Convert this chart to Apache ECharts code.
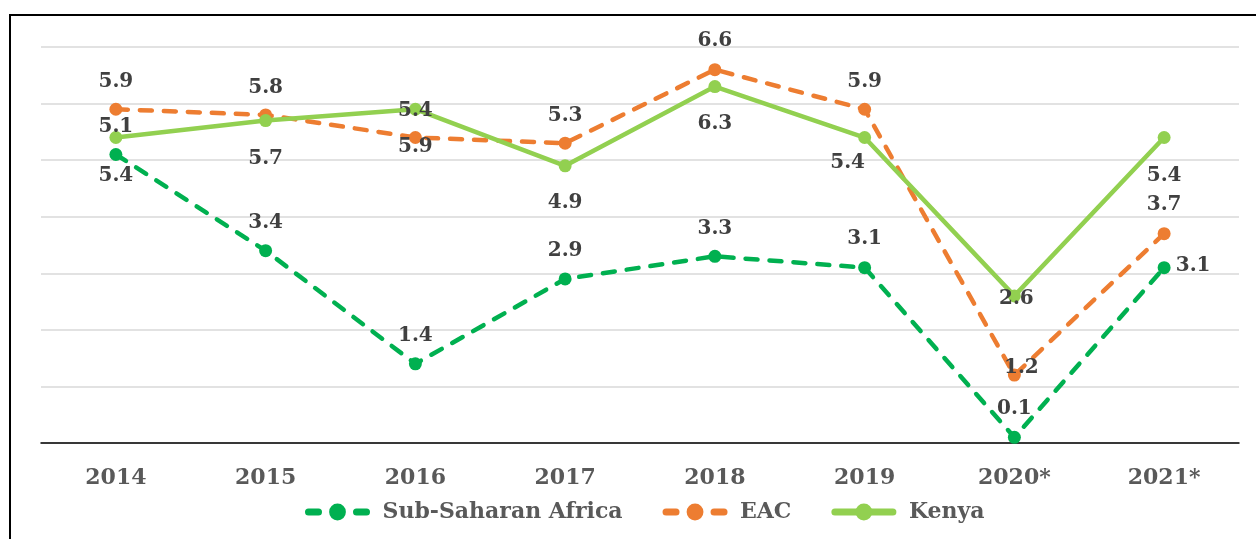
<!DOCTYPE html>
<html>
<head>
<meta charset="utf-8">
<script src="https://cdn.jsdelivr.net/npm/echarts@6/dist/echarts.min.js"></script>
<style>html,body{margin:0;padding:0;background:#fff;}#c{width:1256px;height:539px;}</style>
</head>
<body>
<div id="c"></div>
<script>
const categories = ['2014', '2015', '2016', '2017', '2018', '2019', '2020*', '2021*'];
const ssaValues = [5.1, 3.4, 1.4, 2.9, 3.3, 3.1, 0.1, 3.1];
const eacValues = [5.9, 5.8, 5.4, 5.3, 6.6, 5.9, 1.2, 3.7];
const kenyaValues = [5.4, 5.7, 5.9, 4.9, 6.3, 5.4, 2.6, 5.4];
const seriesNames = ['Sub-Saharan Africa', 'EAC', 'Kenya'];

// label layout (offsets from point centre), kept apart from data
const ssaLabelOffsets = [[0,-28],[0,-28],[0,-28],[0,-28],[0,-28],[0,-29],[0,-29],[29,-2]];
const eacLabelOffsets = [[0,-27],[0,-27],[0,-27],[0,-27],[0,-29],[0,-27],[7,-7],[0,-29]];
const kenyaLabelOffsets = [[0,38],[0,38],[0,38],[0,37],[0,37],[-17,25],[2,3],[0,38]];

const FONT = '"DejaVu Serif", "Liberation Serif", serif';
const labelStyle = {show: true, position: 'inside', color: '#404040', fontFamily: FONT, fontWeight: 'bold', fontSize: 20};

function mk(name, values, offsets, color, dashed) {
  return {
    name: name,
    type: 'line',
    data: values.map((v, i) => ({value: v, label: {offset: offsets[i]}})),
    symbol: 'circle',
    symbolSize: 13,
    showAllSymbol: true,
    lineStyle: {color: color, width: 4.5, type: dashed ? [12, 12] : 'solid', cap: dashed ? 'round' : 'butt'},
    itemStyle: {color: color},
    label: labelStyle,
    emphasis: {disabled: true}
  };
}

const legendDashed = {width: 7, type: [10, 38], cap: 'round'};
const legendSolid = {width: 7, type: 'solid', cap: 'round'};

const chart = echarts.init(document.getElementById('c'));
chart.setOption({
  animation: false,
  backgroundColor: '#fff',
  graphic: [{
    type: 'rect', z: -10,
    shape: {x: 10, y: 15, width: 1260, height: 540},
    style: {fill: 'none', stroke: '#000', lineWidth: 2}
  }],
  grid: {left: 41, right: 17, top: 47, bottom: 96, containLabel: false},
  legend: {
    left: 300, top: 496,
    itemWidth: 58, itemHeight: 21, itemGap: 40,
    textStyle: {color: '#595959', fontFamily: FONT, fontWeight: 'bold', fontSize: 22, padding: [0, 0, 0, 11]},
    data: [
      {name: seriesNames[0], lineStyle: legendDashed},
      {name: seriesNames[1], lineStyle: legendDashed},
      {name: seriesNames[2], lineStyle: legendSolid}
    ]
  },
  xAxis: {
    type: 'category',
    data: categories,
    boundaryGap: true,
    axisLine: {lineStyle: {color: '#000', width: 1.5}},
    axisTick: {show: false},
    axisLabel: {color: '#595959', fontFamily: FONT, fontWeight: 'bold', fontSize: 22, margin: 24}
  },
  yAxis: {
    type: 'value', min: 0, max: 7, interval: 1,
    axisLabel: {show: false},
    axisLine: {show: false},
    axisTick: {show: false},
    splitLine: {lineStyle: {color: '#d9d9d9', width: 1.5}}
  },
  series: [
    mk(seriesNames[0], ssaValues, ssaLabelOffsets, '#00B050', true),
    mk(seriesNames[1], eacValues, eacLabelOffsets, '#ED7D31', true),
    mk(seriesNames[2], kenyaValues, kenyaLabelOffsets, '#92D050', false)
  ]
});
</script>
</body>
</html>
